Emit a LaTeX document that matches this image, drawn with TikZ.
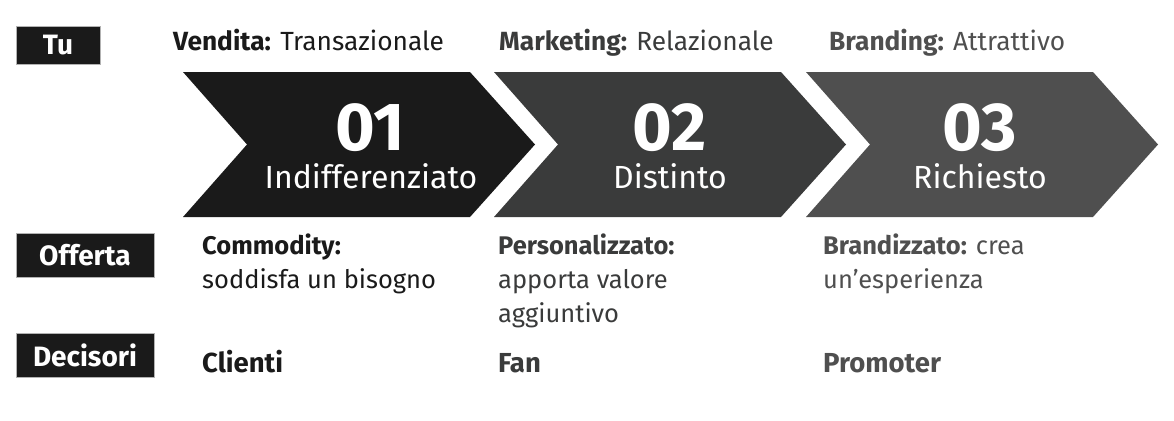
\documentclass[tikz,border=0pt]{standalone}
\usepackage{fontspec}
\setmainfont{Fira Sans}
\usetikzlibrary{positioning}
\definecolor{stepA}{HTML}{1A1A1A}
\definecolor{stepB}{HTML}{3A3B3B}
\definecolor{stepC}{HTML}{4F4F4F}
\tikzstyle{tag}   = [rectangle, fill=stepA, draw=gray!60, line width=0.8pt, text=white, font=\fontsize{28}{32}\selectfont\bfseries, inner sep=0pt, minimum height=44pt, minimum width=138pt]
\tikzstyle{head}  = [anchor=base west, inner sep=0pt, font=\fontsize{26.3}{30}\selectfont]
\tikzstyle{cell}  = [anchor=base west, inner sep=0pt, align=left, font=\fontsize{25.5}{34}\selectfont]
\tikzstyle{who}   = [anchor=base west, inner sep=0pt, font=\fontsize{27.5}{32}\selectfont\bfseries]
\tikzstyle{num}   = [anchor=base, inner sep=0pt, text=white, font=\fontsize{68}{70}\selectfont\bfseries]
\tikzstyle{stage} = [anchor=base, inner sep=0pt, text=white, font=\fontsize{32}{36}\selectfont]

\begin{document}
\begin{tikzpicture}[x=1pt, y=-1pt]
          \useasboundingbox (0,0) rectangle (1174,420);

          %% Chevrons
          \foreach \x/\col in {183/stepA, 494/stepB, 806/stepC}
            \fill [\col] (\x,72) -- (\x+287,72) -- (\x+352,144.5) -- (\x+287,217) -- (\x,217) -- (\x+64,144.5) -- cycle;

          \node (n1) [num]   at (370,150) {01}; %
          \node (s1) [stage] at (371,188) {Indifferenziato}; %
          \node (n2) [num]   at (670,150) {02}; %
          \node (s2) [stage] at (670,188) {Distinto}; %
          \node (n3) [num]   at (980,150) {03}; %
          \node (s3) [stage] at (980,188) {Richiesto}; %

          %% Row labels
          \node (tu)  [tag, minimum width=84pt, minimum height=38pt] at (58,45) {Tu}; %
          \node (off) [tag] at (85,255) {Offerta}; %
          \node (dec) [tag] at (85,355) {Decisori}; %

          %% You (baselines of the last line)
          \node (h1) [head, text=stepA] at (173,51) {\textbf{Vendita:} Transazionale}; %
          \node (h2) [head, text=stepB] at (499,51) {\textbf{Marketing:} Relazionale}; %
          \node (h3) [head, text=stepC] at (829,51) {\textbf{Branding:} Attrattivo}; %

          %% Offer
          \node (o1) [cell, text=stepA] at (202,288) {\textbf{Commodity:}\\soddisfa un bisogno}; %
          \node (o2) [cell, text=stepB] at (498,322) {\textbf{Personalizzato:}\\apporta valore\\aggiuntivo}; %
          \node (o3) [cell, text=stepC] at (823,288) {\textbf{Brandizzato:} crea\\un’esperienza}; %

          %% Deciders
          \node (d1) [who, text=stepA] at (202,372) {Clienti}; %
          \node (d2) [who, text=stepB] at (498,372) {Fan}; %
          \node (d3) [who, text=stepC] at (823,372) {Promoter}; %
        \end{tikzpicture}
\end{document}
